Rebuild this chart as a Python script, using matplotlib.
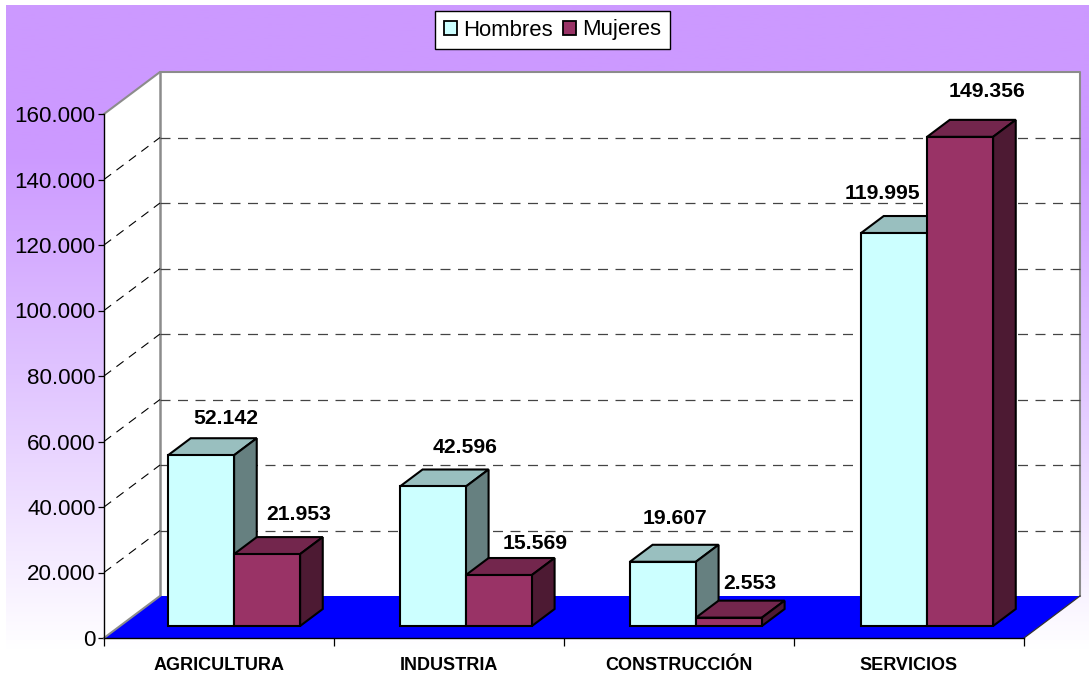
import numpy as np
import matplotlib
matplotlib.use("Agg")
import matplotlib.pyplot as plt
from matplotlib.colors import LinearSegmentedColormap
from matplotlib.patches import Polygon, Patch

categories = ["AGRICULTURA", "INDUSTRIA", "CONSTRUCCIÓN", "SERVICIOS"]
hombres = [52142, 42596, 19607, 119995]
mujeres = [21953, 15569, 2553, 149356]
value_labels_h = ["52.142", "42.596", "19.607", "119.995"]
value_labels_m = ["21.953", "15.569", "2.553", "149.356"]
y_ticks = [0, 20000, 40000, 60000, 80000, 100000, 120000, 140000, 160000]
y_tick_labels = ["0", "20.000", "40.000", "60.000", "80.000", "100.000", "120.000", "140.000", "160.000"]

# layout in pixels
W, H = 1089, 677
L, R, Y0, Y1 = 104, 1024, 638, 114
DXP, DYP = 56, 42
YMAX = 160000
DX = DXP / ((R - L) / 4)
DY = DYP / (Y0 - Y1) * YMAX
D0, D1 = 12 / 42, 29 / 42      # bar depth range
GAPS, BW = [0.209, 0.217, 0.217, 0.222], 0.287
offs_h = [(25, 37), (32, 39), (12, 43), (-12, 40)]
offs_m = [(32, 40), (36, 32), (21, 34), (27, 45)]

fig = plt.figure(figsize=(W / 100, H / 100), dpi=100, facecolor="white")
plt.rcParams["font.family"] = ["Liberation Sans", "DejaVu Sans"]

# gradient background
bg = fig.add_axes([6 / W, 0, (W - 6) / W, (H - 5) / H], zorder=0)
cmap = LinearSegmentedColormap.from_list(
    "bg", [(0, "#CC99FF"), (0.22, "#CC99FF"), (0.55, "#E0C4FF"), (0.96, "#FFFFFF"), (1, "#FFFFFF")])
bg.imshow(np.linspace(0, 1, 256)[:, None], aspect="auto", cmap=cmap, vmin=0, vmax=1)
bg.axis("off")

ax = fig.add_axes([L / W, 1 - Y0 / H, (R - L) / W, (Y0 - Y1) / H], zorder=1)
ax.set_xlim(0, 4)
ax.set_ylim(0, YMAX)
ax.patch.set_alpha(0)


def P(x, y, d=0.0):
    return (x + d * DX, y + d * DY)


def poly(pts, z=2, **kw):
    ax.add_patch(Polygon(pts, closed=True, clip_on=False, zorder=z, **kw))


GREY = "#8C8C8C"
# walls and floor
poly([P(0, 0), P(0, 0, 1), P(4, 0, 1), P(4, YMAX, 1), P(0, YMAX, 1), P(0, YMAX)], facecolor="white", edgecolor="none", z=1)
poly([P(0, 0), P(0, YMAX), P(0, YMAX, 1), P(0, 0, 1)], facecolor="white", edgecolor="none", z=1)
ax.plot(*zip(P(0, YMAX), P(0, YMAX, 1), P(4, YMAX, 1), P(4, 0, 1)), color=GREY, lw=1.5, clip_on=False, zorder=1.5)
ax.plot(*zip(P(0, YMAX, 1), P(0, 0, 1)), color=GREY, lw=1.8, clip_on=False, zorder=1.5)

# gridlines
for v in y_ticks[1:-1]:
    ax.plot(*zip(P(0, v), P(0, v, 1)), color="black", lw=0.8, dashes=(8, 6), clip_on=False, zorder=1.6)
    ax.plot(*zip(P(0, v, 1), P(4, v, 1)), color="#444444", lw=0.9, dashes=(8, 6), clip_on=False, zorder=1.6)

poly([P(0, 0), P(0, 0, 1), P(4, 0, 1), P(4, 0)], facecolor="#0000FF", edgecolor="none", z=1.7)
ax.plot(*zip(P(0, 0), P(0, 0, 1)), color=GREY, lw=1.5, clip_on=False, zorder=1.8)
ax.plot(*zip(P(4, 0), P(4, 0, 1)), color="#333333", lw=0.9, clip_on=False, zorder=1.8)


def bar3d(x0, x1, v, front, top, side, z):
    kw = dict(edgecolor="black", linewidth=1.5, joinstyle="miter")
    poly([P(x0, v, D0), P(x0, v, D1), P(x1, v, D1), P(x1, v, D0)], facecolor=top, z=z, **kw)
    poly([P(x1, 0, D0), P(x1, 0, D1), P(x1, v, D1), P(x1, v, D0)], facecolor=side, z=z, **kw)
    poly([P(x0, 0, D0), P(x1, 0, D0), P(x1, v, D0), P(x0, v, D0)], facecolor=front, z=z + 0.01, **kw)


C_H = ("#CCFFFF", "#99BFBF", "#668080")
C_M = ("#993366", "#73264D", "#4D1A33")

for i in range(len(categories)):
    x0 = i + GAPS[i]
    bar3d(x0, x0 + BW, hombres[i], *C_H, z=3 + i)
    bar3d(x0 + BW, x0 + 2 * BW, mujeres[i], *C_M, z=3.5 + i)
    ax.annotate(value_labels_h[i], P(x0 + BW / 2, hombres[i], D0), xytext=offs_h[i], textcoords="offset pixels",
                ha="center", va="center", fontsize=15.2, fontweight="bold", color="black", zorder=10, annotation_clip=False)
    ax.annotate(value_labels_m[i], P(x0 + 1.5 * BW, mujeres[i], D0), xytext=offs_m[i], textcoords="offset pixels",
                ha="center", va="center", fontsize=15.2, fontweight="bold", color="black", zorder=10, annotation_clip=False)

# axes
for s in ("top", "right"):
    ax.spines[s].set_visible(False)
for s in ("left", "bottom"):
    ax.spines[s].set_color("black")
    ax.spines[s].set_linewidth(1.0)
    ax.spines[s].set_zorder(2)
ax.set_yticks(y_ticks)
ax.set_yticklabels(y_tick_labels, fontsize=16.1, color="black")
ax.tick_params(axis="y", length=4.5, width=0.9, pad=1.5)
ax.set_xticks(range(5))
ax.set_xticklabels([])
ax.tick_params(axis="x", which="major", length=6, width=0.9)
ax.set_xticks(np.arange(len(categories)) + 0.5, minor=True)
ax.set_xticklabels(categories, minor=True, fontsize=13, fontweight="bold")
ax.tick_params(axis="x", which="minor", length=0, pad=14)

# legend
handles = [Patch(facecolor=C_H[0], edgecolor="black", linewidth=1.3, label="Hombres"),
           Patch(facecolor=C_M[0], edgecolor="black", linewidth=1.3, label="Mujeres")]
leg = fig.legend(handles=handles, ncol=2, loc="center", bbox_to_anchor=(552.5 / W, 1 - 30 / H),
                 fontsize=15.9, fancybox=False, framealpha=1, edgecolor="black", facecolor="white",
                 handlelength=0.58, handleheight=0.58, handletextpad=0.27, columnspacing=0.5,
                 borderpad=0.4, borderaxespad=0)
leg.get_frame().set_linewidth(1.0)
leg.set_zorder(20)

fig.savefig("out.png", dpi=100)
